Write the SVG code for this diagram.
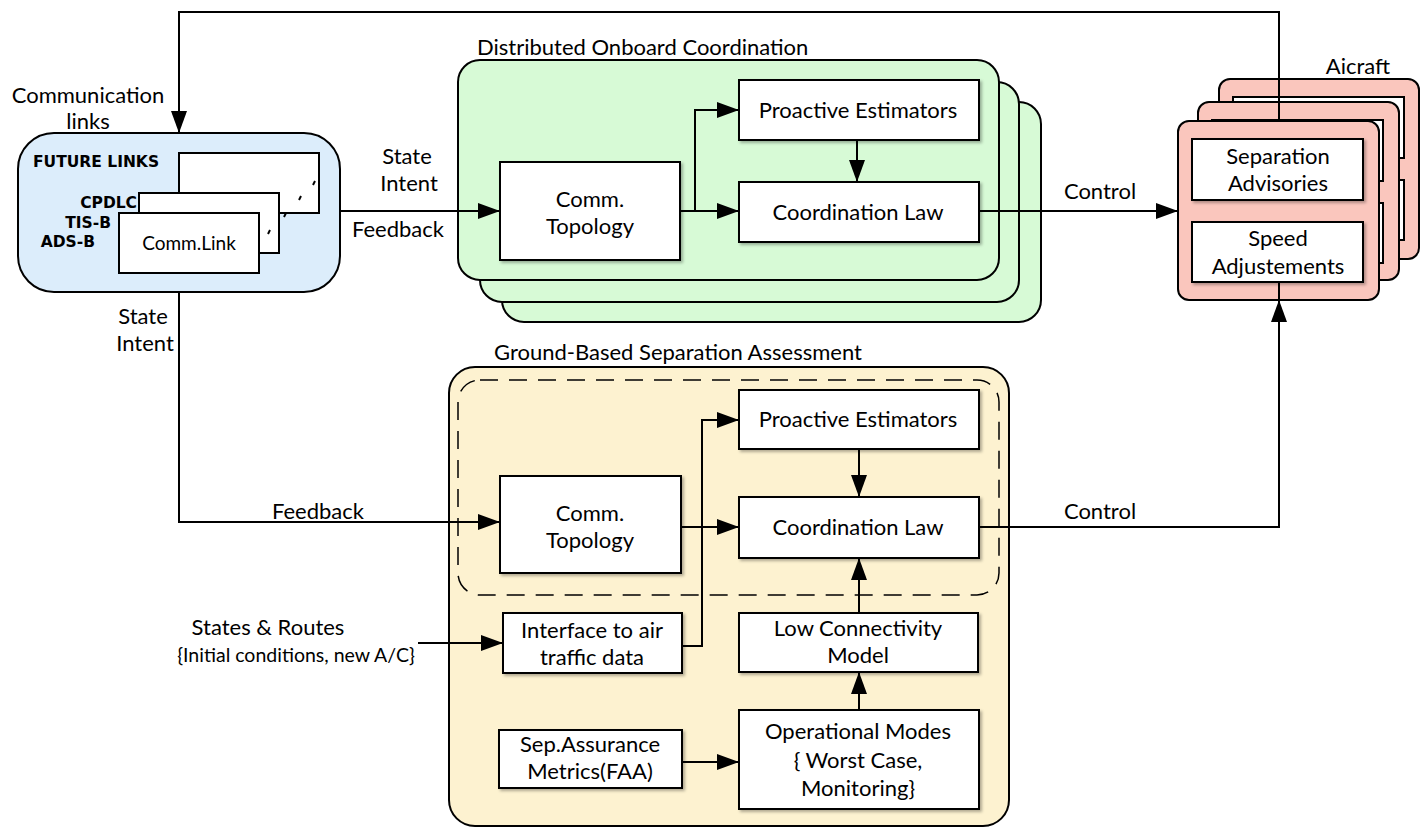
<svg xmlns="http://www.w3.org/2000/svg" width="1424" height="837" viewBox="0 0 1424 837">
<defs>
<marker id="ah" markerUnits="userSpaceOnUse" markerWidth="24" markerHeight="18" refX="22" refY="8" orient="auto">
<path d="M0,0 L22,8 L0,16 z" fill="#000"/>
</marker>
<filter id="sh" x="-10%" y="-10%" width="130%" height="140%">
<feDropShadow dx="2" dy="2" stdDeviation="1.5" flood-color="#000" flood-opacity="0.3"/>
</filter>
</defs>
<style>
text{font-family:Lato,"Open Sans","DejaVu Sans",sans-serif;font-size:22px;fill:#000}
.m{text-anchor:middle}
.e{text-anchor:end}
.b{font-family:"DejaVu Sans",sans-serif;font-weight:bold;font-size:15.5px}
.w{fill:#fff;stroke:#000;stroke-width:2}
.wbox{fill:#fff;stroke:#000;stroke-width:2;filter:url(#sh)}
.grn{fill:#d7fad6;stroke:#000;stroke-width:2}
.red{fill:#fac6bd;stroke:#000;stroke-width:2}
.blu{fill:#dcedfb;stroke:#000;stroke-width:2}
.yel{fill:#fdf2d0;stroke:#000;stroke-width:2}
.c{fill:none;stroke:#000;stroke-width:2}
.a{fill:none;stroke:#000;stroke-width:2;marker-end:url(#ah)}
</style>
<rect width="1424" height="837" fill="#fff"/>

<g id="comm-links">
<rect class="blu" x="18" y="133" width="322" height="159" rx="36"/>
<rect class="w" x="179" y="153" width="140" height="60"/>
<line class="c" x1="313" y1="185" x2="315" y2="181" stroke-width="1.5"/>
<line class="c" x1="299" y1="200" x2="301" y2="196" stroke-width="1.5"/>
<rect class="w" x="139" y="193" width="140" height="60"/>
<line class="c" x1="284" y1="217" x2="286" y2="213" stroke-width="1.5"/>
<line class="c" x1="268" y1="234" x2="270" y2="230" stroke-width="1.5"/>
<rect class="w" x="119" y="213" width="140" height="60"/>
<text class="m" x="189" y="250" style="font-size:19px">Comm.Link</text>
<text class="b" x="33" y="167">FUTURE LINKS</text>
<text class="b e" x="137" y="208">CPDLC</text>
<text class="b e" x="111" y="228">TIS-B</text>
<text class="b e" x="95" y="247">ADS-B</text>
<text class="m" x="88" y="103">Communication</text>
<text class="m" x="88" y="129">links</text>
</g>

<g id="onboard">
<rect class="grn" x="502" y="102" width="539" height="220" rx="22"/>
<rect class="grn" x="480" y="82" width="539" height="220" rx="22"/>
<rect class="grn" x="458" y="60" width="541" height="220" rx="22"/>
<text x="477" y="55">Distributed Onboard Coordination</text>
</g>
<g id="onb-topology">
<rect class="wbox" x="500" y="162" width="180" height="98"/>
<text class="m" x="590" y="207">Comm.</text>
<text class="m" x="590" y="234">Topology</text>
</g>
<g id="onb-estimators">
<rect class="wbox" x="739" y="80" width="240" height="60"/>
<text class="m" x="858" y="118">Proactive Estimators</text>
</g>
<g id="onb-law">
<rect class="wbox" x="739" y="182" width="240" height="60"/>
<text class="m" x="858" y="220">Coordination Law</text>
</g>

<g id="aircraft">
<rect class="red" x="1219" y="79" width="200" height="180" rx="11"/>
<rect class="w" x="1233" y="97" width="171" height="61"/>
<rect class="w" x="1233" y="180" width="171" height="60"/>
<rect class="red" x="1198" y="102" width="201" height="178" rx="11"/>
<rect class="w" x="1212" y="120" width="171" height="61"/>
<rect class="w" x="1212" y="203" width="171" height="60"/>
<rect class="red" x="1178" y="121" width="201" height="179" rx="11"/>
<text class="m" x="1358" y="74">Aicraft</text>
</g>
<g id="sep-advisories">
<rect class="wbox" x="1192" y="139" width="171" height="61"/>
<text class="m" x="1278" y="164">Separation</text>
<text class="m" x="1278" y="191">Advisories</text>
</g>
<g id="speed-adj">
<rect class="wbox" x="1192" y="222" width="171" height="60"/>
<text class="m" x="1278" y="246">Speed</text>
<text class="m" x="1278" y="274">Adjustements</text>
</g>

<g id="ground">
<rect class="yel" x="449" y="367" width="560" height="459" rx="26"/>
<rect x="458" y="380" width="541" height="215" rx="22" fill="none" stroke="#000" stroke-width="1.5" stroke-dasharray="18,11"/>
<text x="494" y="360">Ground-Based Separation Assessment</text>
</g>
<g id="gnd-topology">
<rect class="wbox" x="500" y="476" width="181" height="97"/>
<text class="m" x="590" y="521">Comm.</text>
<text class="m" x="590" y="548">Topology</text>
</g>
<g id="gnd-estimators">
<rect class="wbox" x="739" y="390" width="240" height="59"/>
<text class="m" x="858" y="427">Proactive Estimators</text>
</g>
<g id="gnd-law">
<rect class="wbox" x="739" y="497" width="240" height="61"/>
<text class="m" x="858" y="535">Coordination Law</text>
</g>
<g id="interface">
<rect class="wbox" x="503" y="613" width="179" height="60"/>
<text class="m" x="592" y="638">Interface to air</text>
<text class="m" x="592" y="665">traffic data</text>
</g>
<g id="low-conn">
<rect class="wbox" x="739" y="613" width="239" height="59"/>
<text class="m" x="858" y="636">Low Connectivity</text>
<text class="m" x="858" y="663">Model</text>
</g>
<g id="sep-assurance">
<rect class="wbox" x="499" y="730" width="183" height="58"/>
<text class="m" x="590" y="752">Sep.Assurance</text>
<text class="m" x="590" y="779">Metrics(FAA)</text>
</g>
<g id="op-modes">
<rect class="wbox" x="739" y="710" width="240" height="99"/>
<text class="m" x="858" y="739">Operational Modes</text>
<text class="m" x="858" y="768">{ Worst Case,</text>
<text class="m" x="858" y="796">Monitoring}</text>
</g>

<g id="connectors">
<polyline class="a" points="1279,121 1279,12 179,12 179,133"/>
<line class="a" x1="340" y1="211" x2="500" y2="211"/>
<line class="c" x1="680" y1="211" x2="695" y2="211"/>
<polyline class="a" points="695,211 695,110 739,110"/>
<line class="a" x1="695" y1="211" x2="739" y2="211"/>
<line class="a" x1="857" y1="140" x2="857" y2="182"/>
<line class="a" x1="979" y1="211" x2="1178" y2="211"/>
<polyline class="a" points="179,292 179,522 500,522"/>
<line class="a" x1="681" y1="527" x2="739" y2="527"/>
<line class="a" x1="859" y1="449" x2="859" y2="497"/>
<polyline class="a" points="682,646 702,646 702,420 739,420"/>
<line class="a" x1="418" y1="643" x2="503" y2="643"/>
<line class="a" x1="859" y1="613" x2="859" y2="558"/>
<line class="a" x1="682" y1="762" x2="739" y2="762"/>
<line class="a" x1="859" y1="710" x2="859" y2="672"/>
<polyline class="a" points="979,527 1279,527 1279,300"/>
<line class="c" x1="1279" y1="300" x2="1279" y2="282"/>
<text class="m" x="407" y="164">State</text>
<text class="m" x="409" y="191">Intent</text>
<text class="m" x="398" y="237">Feedback</text>
<text class="m" x="1100" y="199">Control</text>
<text class="m" x="143" y="324">State</text>
<text class="m" x="145" y="351">Intent</text>
<text class="m" x="318" y="519">Feedback</text>
<text class="m" x="1100" y="519">Control</text>
<text class="m" x="268" y="635">States &amp; Routes</text>
<text class="m" x="296" y="662" style="font-size:19.5px">{Initial conditions, new A/C}</text>
</g>
</svg>
